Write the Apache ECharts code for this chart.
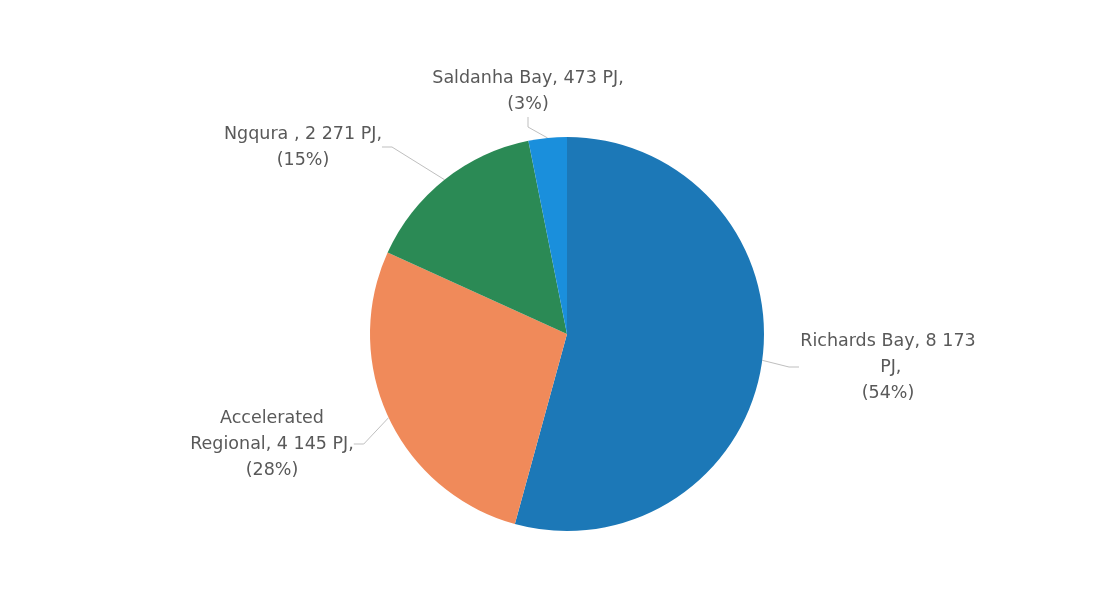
<!DOCTYPE html>
<html>
<head>
<meta charset="utf-8">
<style>
  html, body { margin: 0; padding: 0; background: #ffffff; }
  #chart { width: 1120px; height: 593px; }
</style>
<script src="https://cdn.jsdelivr.net/npm/echarts@6/dist/echarts.min.js"></script>
</head>
<body>
<div id="chart"></div>
<script>
// Gas demand by hub (PJ)
const categories = ['Richards Bay', 'Accelerated\nRegional', 'Ngqura ', 'Saldanha Bay'];
const values = [8173, 4145, 2271, 473];
const colors = ['#1c78b7', '#f08a5a', '#2b8a55', '#1a8fdc'];

// label centre points, one per slice
const labelSpots = [[888, 367], [272, 444], [303, 147], [528, 91]];

function fmtThousands(v) {
  return String(v).replace(/\B(?=(\d{3})+(?!\d))/g, ' ');
}

const chart = echarts.init(document.getElementById('chart'));
chart.setOption({
  backgroundColor: '#ffffff',
  animation: false,
  series: [{
    type: 'pie',
    center: [567, 334],
    radius: 197,
    startAngle: 90,
    clockwise: true,
    percentPrecision: 0,
    data: categories.map((name, i) => {
      const item = { name: name, value: values[i], itemStyle: { color: colors[i] } };
      if (i === 0) item.label = { width: 178, overflow: 'break' };
      return item;
    }),
    itemStyle: { borderWidth: 0 },
    label: {
      show: true,
      position: 'outside',
      fontFamily: 'DejaVu Sans',
      fontSize: 17.5,
      lineHeight: 26,
      color: '#595959',
      align: 'center',
      formatter: p => p.name + ', ' + fmtThousands(p.value) + ' PJ,\n(' + p.percent + '%)'
    },
    labelLine: {
      show: true,
      length: 10,
      length2: 10,
      lineStyle: { color: '#bfbfbf', width: 1 }
    },
    labelLayout: function (params) {
      const s = labelSpots[params.dataIndex];
      return { x: s[0], y: s[1], align: 'center', verticalAlign: 'middle' };
    }
  }]
});
</script>
</body>
</html>
